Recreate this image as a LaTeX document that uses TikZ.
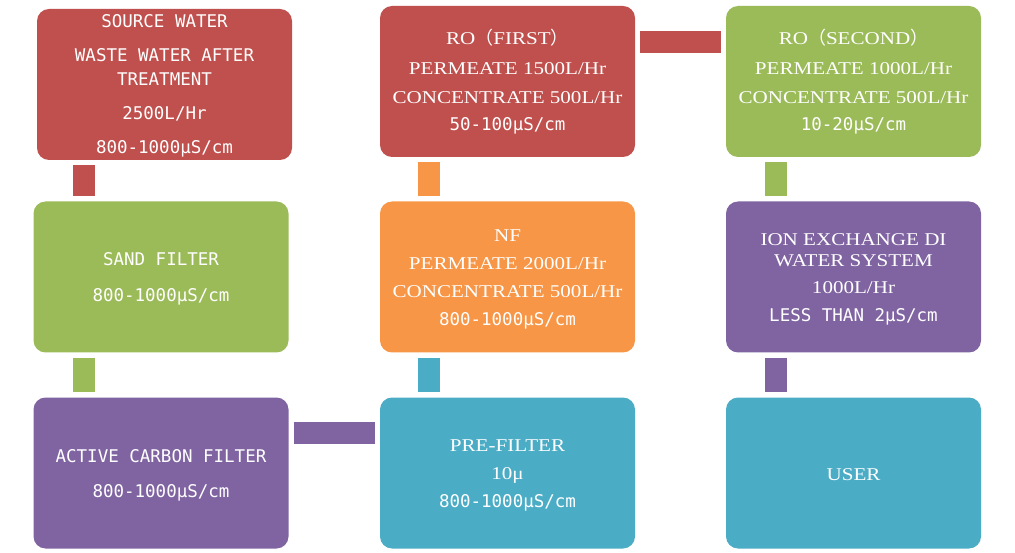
\documentclass[tikz,border=0pt]{standalone}
\usepackage{fontspec}
\setmainfont{Liberation Serif}[FakeStretch=1.17]
\newfontfamily\goth{DejaVu Sans Mono}
\newfontfamily\cjk{Noto Sans CJK SC}
\definecolor{cred}{HTML}{C0504D}
\definecolor{cgreen}{HTML}{9BBB59}
\definecolor{cpurple}{HTML}{8064A2}
\definecolor{corange}{HTML}{F79646}
\definecolor{cblue}{HTML}{4BACC6}
\tikzset{
  box/.style={rounded corners=12pt, minimum width=255pt, minimum height=151pt, inner sep=0pt, draw=none},
  txt/.style={text=white, inner sep=0pt, anchor=base, yshift=-1pt, font=\fontsize{18pt}{20pt}\selectfont},
  gtxt/.style={txt, font=\fontsize{17.5pt}{20pt}\selectfont\goth},
  bar/.style={line width=22pt, shorten <=5pt, shorten >=5pt}
}
\newcommand\Txt[4]{\node[txt] (#1) at (#2,#3) {#4};}
\newcommand\Gtx[4]{\node[gtxt] (#1) at (#2,#3) {#4};}
\begin{document}
\begin{tikzpicture}[x=1pt,y=-1pt]
\useasboundingbox (0,0) rectangle (1015,553);
% boxes
\node[box, fill=cred]    (src)  at (164.5,84.5) {};
\node[box, fill=cgreen]  (sand) at (161,277) {};
\node[box, fill=cpurple] (carb) at (161,473) {};
\node[box, fill=cred]    (ro1)  at (507.5,81.5) {};
\node[box, fill=corange] (nf)   at (507.5,277) {};
\node[box, fill=cblue]   (pre)  at (507.5,473) {};
\node[box, fill=cgreen]  (ro2)  at (853.5,81.5) {};
\node[box, fill=cpurple] (ion)  at (853.5,277) {};
\node[box, fill=cblue]   (user) at (853.5,473) {};
% connector guide coordinates
\coordinate (cx1) at (84,0);
\coordinate (cx2) at (429,0);
\coordinate (cx3) at (776,0);
\coordinate (cy1) at (0,42);
\coordinate (cy2) at (0,433);
% connectors
\draw[bar, cred]    (src.south -| cx1) -- (sand.north -| cx1);
\draw[bar, cgreen]  (sand.south -| cx1) -- (carb.north -| cx1);
\draw[bar, cpurple] (carb.east |- cy2) -- (pre.west |- cy2);
\draw[bar, cblue]   (pre.north -| cx2) -- (nf.south -| cx2);
\draw[bar, corange] (nf.north -| cx2) -- (ro1.south -| cx2);
\draw[bar, cred]    (ro1.east |- cy1) -- (ro2.west |- cy1);
\draw[bar, cgreen]  (ro2.south -| cx3) -- (ion.north -| cx3);
\draw[bar, cpurple] (ion.south -| cx3) -- (user.north -| cx3);
% texts
\Gtx{s1}{164.5}{27}{SOURCE WATER}
\Gtx{s2}{164.5}{61}{WASTE WATER AFTER}
\Gtx{s3}{164.5}{85}{TREATMENT}
\Gtx{s4}{164.5}{119}{2500L/Hr}
\Gtx{s5}{164.5}{153}{800-1000μS/cm}
\Gtx{sa1}{161}{265}{SAND FILTER}
\Gtx{sa2}{161}{301}{800-1000μS/cm}
\Gtx{ca1}{161}{461}{ACTIVE CARBON FILTER}
\Gtx{ca2}{161}{496}{800-1000μS/cm}
\Txt{r1}{507.5}{44}{RO{\cjk （}FIRST{\cjk ）}}
\Txt{r2}{507.5}{74}{PERMEATE 1500L/Hr}
\Txt{r3}{507.5}{103}{CONCENTRATE 500L/Hr}
\Gtx{r4}{507.5}{130}{50-100μS/cm}
\Txt{n1}{507.5}{241}{NF}
\Txt{n2}{507.5}{269}{PERMEATE 2000L/Hr}
\Txt{n3}{507.5}{297}{CONCENTRATE 500L/Hr}
\Gtx{n4}{507.5}{325}{800-1000μS/cm}
\Txt{p1}{507.5}{450}{PRE-FILTER}
\Txt{p2}{507.5}{478}{10μ}
\Gtx{p3}{507.5}{506}{800-1000μS/cm}
\Txt{q1}{853.5}{44}{RO{\cjk （}SECOND{\cjk ）}}
\Txt{q2}{853.5}{74}{PERMEATE 1000L/Hr}
\Txt{q3}{853.5}{103}{CONCENTRATE 500L/Hr}
\Gtx{q4}{853.5}{130}{10-20μS/cm}
\Txt{i1}{853.5}{245}{ION EXCHANGE DI}
\Txt{i2}{853.5}{266}{WATER SYSTEM}
\Txt{i3}{853.5}{293}{1000L/Hr}
\Gtx{i4}{853.5}{321}{LESS THAN 2μS/cm}
\Txt{u1}{853.5}{479}{USER}
\end{tikzpicture}
\end{document}
